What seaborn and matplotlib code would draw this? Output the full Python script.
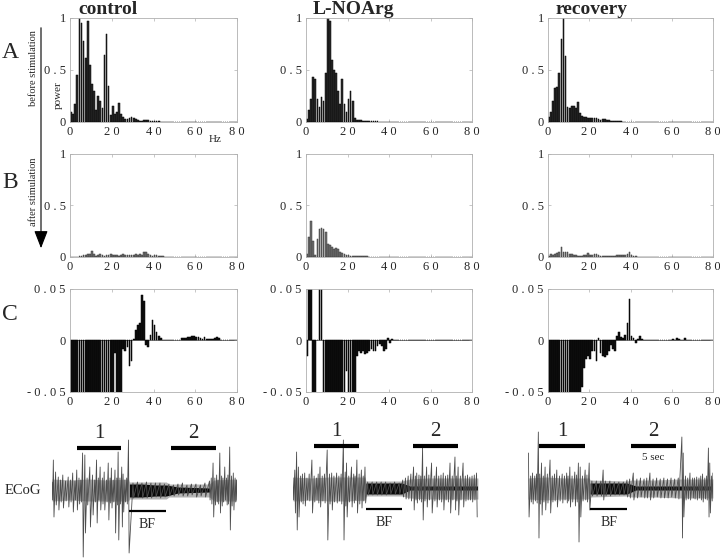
import numpy as np
import pandas as pd
import seaborn as sns
import matplotlib
matplotlib.use("Agg")
import matplotlib.pyplot as plt

# ---------------- data ----------------
conditions = ["control", "L-NOArg", "recovery"]
row_letters = ["A", "B", "C"]
freq_hz = np.arange(0.5, 80.0, 1.0)   # 1-Hz spectral bins

ctrl_A = [0.10, 0.08, 0.17, 0.45, 1.00, 0.95, 0.78, 0.62, 0.97, 0.55,
          0.37, 0.30, 0.12, 0.25, 0.20, 0.13, 0.64, 0.85, 0.35, 0.07,
          0.15, 0.08, 0.10, 0.18, 0.08, 0.05, 0.03, 0.03, 0.04, 0.05,
          0.04, 0.03, 0.02, 0.01, 0.01, 0.015, 0.02, 0.015, 0.01, 0.008,
          0.006, 0.005, 0.005, 0.004, 0.003, 0.002, 0.001, 0.001, 0, 0,
          0, 0, 0, 0, 0, 0, 0, 0, 0, 0,
          0, 0, 0, 0, 0, 0, 0, 0, 0, 0,
          0, 0, 0, 0, 0, 0, 0, 0, 0, 0]
lno_A = [0.03, 0.12, 0.22, 0.43, 0.41, 0.22, 0.14, 0.24, 0.20, 0.47,
         1.00, 0.97, 0.60, 0.50, 0.47, 0.30, 0.17, 0.41, 0.17, 0.10,
         0.22, 0.30, 0.20, 0.04, 0.02, 0.015, 0.015, 0.012, 0.012, 0.01,
         0.01, 0.008, 0.008, 0.006, 0.005, 0.004, 0.003, 0.002, 0.002, 0.001,
         0, 0, 0, 0, 0, 0, 0, 0, 0, 0,
         0, 0, 0, 0, 0, 0, 0, 0, 0, 0,
         0, 0, 0, 0, 0, 0, 0, 0, 0, 0,
         0, 0, 0, 0, 0, 0, 0, 0, 0, 0]
rec_A = [0.05, 0.10, 0.20, 0.33, 0.34, 0.47, 0.80, 1.00, 0.63, 0.14,
         0.13, 0.15, 0.15, 0.13, 0.19, 0.09, 0.06, 0.05, 0.05, 0.04,
         0.04, 0.04, 0.04, 0.035, 0.03, 0.02, 0.025, 0.025, 0.02, 0.015,
         0.012, 0.01, 0.01, 0.008, 0.006, 0.005, 0.004, 0.003, 0.003, 0.002,
         0.002, 0.001, 0.001, 0, 0, 0, 0, 0, 0, 0,
         0, 0, 0, 0, 0, 0, 0, 0, 0, 0,
         0.002, 0.002, 0, 0, 0, 0.002, 0, 0, 0, 0,
         0, 0.002, 0, 0, 0, 0, 0, 0, 0, 0]

ctrl_B = [0, 0, 0, 0, 0.005, 0.01, 0.015, 0.02, 0.025, 0.03,
          0.055, 0.03, 0.01, 0.015, 0.025, 0.015, 0.01, 0.015, 0.02, 0.025,
          0.02, 0.02, 0.015, 0.01, 0.015, 0.03, 0.02, 0.02, 0.015, 0.02,
          0.02, 0.025, 0.02, 0.025, 0.02, 0.045, 0.05, 0.03, 0.015, 0.01,
          0.02, 0.015, 0.01, 0.008, 0.005, 0.003, 0, 0, 0, 0,
          0, 0, 0, 0, 0, 0, 0, 0, 0, 0.002,
          0.002, 0, 0, 0.002, 0, 0, 0, 0, 0, 0,
          0, 0, 0.002, 0, 0, 0, 0.002, 0, 0, 0]
lno_B = [0.03, 0.19, 0.35, 0.16, 0.02, 0.17, 0.27, 0.28, 0.27, 0.24,
         0.13, 0.12, 0.10, 0.08, 0.09, 0.08, 0.05, 0.04, 0.03, 0.02,
         0.015, 0.01, 0.008, 0.006, 0.006, 0.005, 0.008, 0.006, 0.005, 0.005,
         0.004, 0.004, 0.003, 0.003, 0.003, 0.002, 0.002, 0.001, 0.001, 0,
         0, 0, 0, 0, 0, 0, 0, 0, 0, 0,
         0, 0, 0, 0, 0, 0, 0, 0, 0, 0,
         0, 0, 0, 0, 0, 0, 0, 0, 0, 0,
         0, 0, 0, 0, 0, 0, 0, 0, 0, 0]
rec_B = [0.005, 0.03, 0.02, 0.03, 0.04, 0.05, 0.10, 0.05, 0.045, 0.045,
         0.03, 0.025, 0.02, 0.015, 0.01, 0.01, 0.01, 0.015, 0.02, 0.04,
         0.02, 0.02, 0.025, 0.025, 0.015, 0.01, 0.01, 0.01, 0.008, 0.01,
         0.012, 0.01, 0.012, 0.015, 0.015, 0.015, 0.015, 0.02, 0.025, 0.045,
         0.02, 0.01, 0.005, 0.003, 0, 0, 0, 0, 0, 0,
         0, 0, 0, 0, 0, 0, 0, 0, 0, 0,
         0.003, 0.003, 0, 0.003, 0, 0, 0.003, 0.003, 0, 0,
         0, 0, 0, 0, 0, 0, 0, 0, 0, 0]

ctrl_C = [-0.08, -0.08, -0.08, -0.08, -0.08, -0.08, -0.08, -0.08, -0.08, -0.08,
          -0.08, -0.08, -0.08, -0.08, -0.08, -0.08, -0.08, -0.08, -0.08, -0.08,
          -0.08, -0.012, -0.08, -0.08, -0.08, -0.008, -0.01, -0.006, -0.025, -0.02,
          0.001, 0.01, 0.015, 0.017, 0.044, 0.038, -0.004, -0.006, 0.005, 0.02,
          0.015, 0.008, 0.004, 0.002, 0.0005, 0.0005, 0.0005, 0.0005, 0.0005, 0.0005,
          0.0005, 0.0005, 0.0005, 0.002, 0.002, 0.002, 0.003, 0.003, 0.004, 0.004,
          0.003, 0.003, 0.002, 0.001, 0.003, 0.001, 0.001, 0.001, 0.001, 0.002,
          0.003, 0.002, 0.0005, 0.0005, 0.0005, 0.0005, 0.0005, 0.0005, 0.0005, 0.0005]
lno_C = [-0.015, 0.08, 0.08, -0.08, -0.08, 0.0, 0.08, 0.08, -0.08, -0.08,
         -0.08, -0.08, -0.08, -0.08, -0.08, -0.08, -0.08, -0.08, -0.08, -0.03,
         -0.08, -0.08, -0.08, -0.08, -0.015, -0.01, -0.012, -0.01, -0.013, -0.012,
         -0.01, -0.008, -0.01, -0.01, -0.005, -0.003, -0.005, -0.01, -0.008, 0.002,
         -0.002, 0.001, 0.0005, 0.0005, 0.0005, 0.0005, 0.0005, 0.0005, 0.0005, 0.0005,
         0.0005, 0.0005, 0.0005, 0.0005, 0.0005, 0.0005, 0.0005, 0.0005, 0.0005, 0.0005,
         0.0005, 0.0005, 0.0005, 0.0005, 0.0005, 0.0005, 0.0005, 0.0005, 0.0005, 0.0005,
         0.0005, 0.0005, 0.0005, 0.0005, 0.0005, 0.0005, 0.0005, 0.0005, 0.0005, 0.0005]
rec_C = [-0.08, -0.08, -0.08, -0.08, -0.08, -0.08, -0.08, -0.08, -0.08, -0.08,
         -0.08, -0.08, -0.08, -0.08, -0.08, -0.08, -0.045, -0.027, -0.018, -0.015,
         -0.018, -0.01, -0.01, -0.02, 0.002, -0.012, -0.015, -0.016, -0.014, -0.01,
         -0.004, -0.008, -0.01, 0.004, 0.008, 0.003, 0.002, 0.005, 0.017, 0.04,
         0.004, 0.002, -0.002, 0.001, 0.004, 0.001, 0.0005, 0.0005, 0.0005, 0.0005,
         0.0005, 0.0005, 0.0005, 0.0005, 0.0005, 0.0005, 0.0005, 0.0005, 0.0005, 0.0005,
         0.001, 0.0005, 0.002, 0.001, 0.0005, 0.0005, 0.002, 0.0005, 0.0005, 0.0005,
         0.0005, 0.0005, 0.0005, 0.0005, 0.0005, 0.0005, 0.0005, 0.0005, 0.0005, 0.0005]

x_ticks = [0, 20, 40, 60, 80]
x_ticklabels = ["0", "2 0", "4 0", "6 0", "8 0"]
power_ticks = [0, 0.5, 1]
power_ticklabels = ["0", "0 . 5", "1"]
diff_ticks = [-0.05, 0, 0.05]
diff_ticklabels = ["- 0 . 0 5", "0", "0 . 0 5"]

# ECoG traces: deflection times (s) with positive / negative excursions (a.u.)
ctrl_t = [0.0, 0.15, 0.4, 0.7, 0.95, 1.2, 1.5, 1.8, 2.05, 2.3, 2.55, 2.75, 3.0, 3.2,
          3.4, 3.65, 3.9, 4.2, 4.5, 4.75, 4.95, 5.15, 5.35, 5.6, 5.8, 6.05, 6.25, 6.45,
          6.6, 6.8, 7.0, 7.2, 7.35, 7.55, 7.75, 7.9, 8.1, 8.3, 8.5,
          9.0, 9.5, 10.0, 10.5, 11.0, 11.5, 12.0, 12.5, 13.0, 13.5, 14.0, 14.5, 15.0,
          15.5, 16.0, 16.5, 17.0, 17.5, 17.7,
          17.9, 18.1, 18.3, 18.45, 18.65, 18.85, 19.0, 19.2, 19.4, 19.55, 19.75, 19.95,
          20.15, 20.35, 20.5]
ctrl_hi = [8, 30, 18, 13, 10, 15, 9, 13, 10, 17, 9, 20, 12, 10,
           37, 35, 12, 23, 15, 10, 30, 12, 23, 12, 18, 10, 27, 12,
           22, 10, 20, 12, 38, 12, 23, 16, 10, 12, 50,
           7, 8, 7, 8, 7, 7, 7, 6, 6, 5, 6, 7, 5,
           6, 6, 5, 7, 9, 12,
           27, 12, 15, 10, 37, 14, 12, 23, 12, 15, 43, 14,
           17, 12, 10]
ctrl_lo = [-10, -27, -15, -20, -12, -18, -11, -17, -12, -22, -10, -20, -14, -12,
           -67, -43, -15, -37, -25, -12, -33, -10, -20, -14, -20, -12, -30, -13,
           -18, -12, -43, -15, -50, -14, -37, -22, -12, -14, -63,
           -8, -7, -8, -8, -8, -7, -8, -7, -6, -6, -5, -6, -6,
           -5, -7, -6, -7, -10, -14,
           -27, -15, -12, -14, -23, -16, -12, -10, -15, -14, -40, -16,
           -20, -12, -10]
ctrl_env_t = [0, 2, 4, 6, 8.5, 8.6, 12.7, 13, 17.5, 18, 20.5]
ctrl_env_hi = [11, 10, 11, 10, 11, 8, 8, 6, 6, 10, 11]
ctrl_env_lo = [-11, -10, -11, -11, -11, -9, -9, -7, -7, -11, -11]
ctrl_core_t = [8.6, 10, 11.5, 12.7, 14, 17.5]
ctrl_core_hi = [6, 6, 5, 5, 3, 2]
ctrl_core_lo = [-7, -7, -6, -6, -3, -2]

lno_t = [0.0, 0.2, 0.4, 0.6, 0.85, 1.05, 1.3, 1.55, 1.8, 2.1, 2.35, 2.6, 2.8, 3.0,
         3.25, 3.5, 3.8, 4.05, 4.3, 4.55, 4.85, 5.1, 5.35, 5.6, 5.8, 5.95, 6.2, 6.5,
         6.75, 6.9, 7.1, 7.35, 7.6, 7.8, 8.0,
         8.3, 8.8, 9.3, 9.8, 10.3, 10.8, 11.3, 11.8, 12.2, 12.5, 12.8,
         13.1, 13.4, 13.6, 13.75, 14.0, 14.2, 14.4, 14.6, 14.85, 15.1, 15.4, 15.7,
         15.95, 16.2, 16.45, 16.7, 16.95, 17.2, 17.45, 17.7, 18.0, 18.15, 18.35,
         18.6, 18.9, 19.15, 19.4, 19.65, 19.9, 20.15, 20.4]
lno_hi = [10, 18, 36, 21, 12, 14, 15, 10, 14, 28, 12, 10, 14, 21,
          12, 14, 38, 14, 15, 12, 15, 12, 14, 48, 16, 25, 12, 21,
          14, 12, 28, 14, 18, 12, 21,
          6, 6, 6, 6, 6, 5, 6, 5, 8, 10, 12,
          14, 21, 12, 15, 13, 12, 40, 12, 21, 13, 25, 12,
          21, 12, 13, 15, 12, 13, 25, 12, 31, 12, 21,
          12, 25, 12, 13, 11, 12, 13, 15]
lno_lo = [-12, -25, -42, -29, -14, -16, -18, -12, -13, -25, -14, -12, -15, -19,
          -13, -15, -52, -16, -22, -14, -15, -13, -16, -52, -18, -29, -14, -19,
          -15, -12, -25, -16, -20, -13, -15,
          -7, -7, -7, -7, -7, -6, -6, -6, -9, -11, -11,
          -13, -22, -12, -15, -12, -14, -32, -13, -19, -12, -25, -13,
          -19, -12, -14, -22, -12, -14, -25, -12, -22, -13, -27,
          -12, -19, -13, -12, -12, -14, -12, -29]
lno_env_t = [0, 2, 4, 6, 8, 8.1, 12.1, 13, 15, 17, 19, 20.55]
lno_env_hi = [11, 10, 11, 11, 11, 7, 7, 9, 10, 10, 10, 10]
lno_env_lo = [-13, -12, -13, -13, -12, -8, -8, -10, -11, -11, -11, -11]
lno_core_t = [8.1, 10, 12.1, 13, 20.5]
lno_core_hi = [5, 5, 5, 2, 2]
lno_core_lo = [-6, -6, -6, -2, -2]

rec_t = [0.05, 0.3, 0.5, 0.75, 0.95, 1.15, 1.3, 1.5, 1.7, 1.9, 2.15, 2.45, 2.7, 2.95,
         3.2, 3.5, 3.8, 4.05, 4.3, 4.45, 4.65, 4.9, 5.2, 5.4, 5.6, 5.8, 6.05, 6.35,
         6.55, 6.8,
         7.1, 7.6, 8.1, 8.35, 8.6, 9.1, 9.6, 10.1, 10.6, 11.0,
         11.3, 11.7, 12.1, 12.5, 12.9, 13.2, 13.55, 13.9, 14.3, 14.7, 15.1, 15.5,
         15.9, 16.3, 16.7, 17.1, 17.25, 17.5, 17.75, 18.0, 18.3, 18.5, 18.75, 19.0,
         19.2, 19.4, 19.65, 19.85, 20.05, 20.2, 20.4, 20.55]
rec_hi = [35, 12, 15, 12, 14, 56, 14, 25, 12, 21, 14, 28, 12, 14,
          18, 12, 14, 12, 15, 12, 21, 12, 16, 13, 25, 21, 12, 18,
          13, 25,
          7, 7, 7, 18, 7, 7, 6, 6, 6, 8,
          9, 15, 9, 10, 9, 10, 15, 9, 10, 9, 10, 9,
          10, 9, 10, 51, 35, 12, 10, 15, 10, 10, 11, 10,
          12, 14, 10, 12, 40, 25, 12, 15]
rec_lo = [-29, -14, -16, -13, -15, -50, -16, -27, -14, -22, -15, -25, -14, -13,
          -19, -13, -15, -12, -15, -13, -19, -14, -18, -14, -54, -29, -13, -12,
          -14, -22,
          -8, -8, -8, -12, -8, -8, -7, -7, -7, -9,
          -10, -12, -10, -9, -10, -10, -12, -10, -9, -10, -10, -10,
          -9, -10, -11, -50, -29, -12, -11, -12, -10, -11, -12, -10,
          -12, -14, -11, -12, -29, -25, -13, -15]
rec_env_t = [0, 2, 4, 6.8, 6.9, 11, 11.5, 14, 17, 19, 20.55]
rec_env_hi = [10, 11, 10, 10, 8, 7, 8, 8, 9, 9, 9]
rec_env_lo = [-11, -12, -11, -11, -9, -8, -9, -9, -10, -10, -10]
rec_core_t = [6.9, 9, 11, 12, 20.5]
rec_core_hi = [5, 5, 5, 2, 2]
rec_core_lo = [-6, -6, -6, -2, -2]

# epochs (s): analysed windows 1 and 2, basal-forebrain stimulation
ctrl_epochs = {"1": (2.8, 7.7), "2": (13.2, 18.2), "BF": (8.55, 12.65)}
lno_epochs = {"1": (2.35, 7.35), "2": (13.35, 18.35), "BF": (8.1, 12.1)}
rec_epochs = {"1": (1.2, 6.35), "2": (11.45, 16.45), "BF": (6.9, 11.0)}

# ---------------- layout (pixels) ----------------
W, H = 720, 560
sns.set_theme(style="white")
plt.rcParams["font.family"] = ["Liberation Serif", "DejaVu Serif"]
fig = plt.figure(figsize=(W / 100, H / 100), dpi=100)


def px_axes(l, t, r, b):
    return fig.add_axes([l / W, 1 - b / H, (r - l) / W, (b - t) / H])


col_px = [(70, 237), (306, 472), (548, 713)]
row_px = [(18, 122), (154, 257), (289, 392)]
spectra = [[ctrl_A, lno_A, rec_A], [ctrl_B, lno_B, rec_B], [ctrl_C, lno_C, rec_C]]
row_fill = ["#2b2b2b", "#6e6e6e", "#111111"]
row_edge = ["#000000", "#3a3a3a", "#000000"]

for r, (t, b) in enumerate(row_px):
    for c, (l, rr) in enumerate(col_px):
        ax = px_axes(l, t, rr, b)
        df = pd.DataFrame({"hz": freq_hz, "val": spectra[r][c]})
        sns.barplot(data=df, x="hz", y="val", native_scale=True, width=0.82,
                    color=row_fill[r], edgecolor=row_edge[r], linewidth=0.35,
                    saturation=1, errorbar=None, ax=ax)
        ax.set_xlim(0, 80)
        ax.set_xticks(x_ticks)
        ax.set_xticklabels(x_ticklabels)
        if r < 2:
            ax.set_ylim(0, 1)
            ax.set_yticks(power_ticks)
            ax.set_yticklabels(power_ticklabels)
        else:
            ax.set_ylim(-0.05, 0.05)
            ax.set_yticks(diff_ticks)
            ax.set_yticklabels(diff_ticklabels)
            ax.axhline(0, color="#444444", lw=0.5, zorder=0)
        ax.set_xlabel("")
        ax.set_ylabel("")
        for s in ax.spines.values():
            s.set_color("#b0b0b0")
            s.set_linewidth(0.6)
        ax.tick_params(axis="both", direction="in", length=2, width=0.5,
                       color="#b0b0b0", labelsize=9, pad=3,
                       top=True, right=True, bottom=True, left=True)

# titles & row letters
title_x = [108, 353, 592]
for name, x in zip(conditions, title_x):
    fig.text(x / W, 1 - 9 / H, name, ha="center", va="center",
             fontsize=14, fontweight="bold")
for letter, y in zip(row_letters, [52, 183, 315]):
    fig.text(10 / W, 1 - y / H, letter, ha="center", va="center", fontsize=17)

fig.text(33 / W, 1 - 68 / H, "before stimulation", rotation=90, ha="center",
         va="center", fontsize=7.5)
fig.text(33 / W, 1 - 192 / H, "after stimulation", rotation=90, ha="center",
         va="center", fontsize=7.5)
fig.text(58 / W, 1 - 95 / H, "power", rotation=90, ha="center", va="center",
         fontsize=8)
fig.text(215 / W, 1 - 140 / H, "Hz", ha="center", va="center", fontsize=8)
fig.add_artist(matplotlib.patches.FancyArrowPatch(
    (41 / W, 1 - 25 / H), (41 / W, 1 - 251 / H), transform=fig.transFigure,
    arrowstyle="-|>,head_length=0.9,head_width=0.35", mutation_scale=12,
    color="black", lw=0.8))

# ECoG traces
trace_px = [(52, 420, 237, 560), (293, 418, 478, 558), (528, 418, 713, 558)]
traces = [
    (ctrl_t, ctrl_hi, ctrl_lo, ctrl_env_t, ctrl_env_hi, ctrl_env_lo,
     ctrl_core_t, ctrl_core_hi, ctrl_core_lo, ctrl_epochs),
    (lno_t, lno_hi, lno_lo, lno_env_t, lno_env_hi, lno_env_lo,
     lno_core_t, lno_core_hi, lno_core_lo, lno_epochs),
    (rec_t, rec_hi, rec_lo, rec_env_t, rec_env_hi, rec_env_lo,
     rec_core_t, rec_core_hi, rec_core_lo, rec_epochs),
]
for i, (l, t, rr, b) in enumerate(trace_px):
    st, sh, sl, et, eh, el, ct, ch, cl, ep = traces[i]
    ax = px_axes(l, t, rr, b)
    ax.set_xlim(0, 20.56)
    ax.set_ylim(-70, 70)
    ax.axis("off")
    ax.fill_between(et, el, eh, color="#b4b4b4", lw=0)
    # zig-zag trace through each deflection's peak and trough
    zx, zy = [], []
    for tt, h, lo in zip(st, sh, sl):
        zx += [tt, tt + 0.07]
        zy += [h, lo]
    ax.plot(zx, zy, color="#4d4d4d", lw=0.6)
    ax.fill_between(ct, cl, ch, color="#0a0a0a", lw=0)
    for key in ("1", "2"):
        a, z = ep[key]
        ax.plot([a, z], [42, 42], color="black", lw=3, solid_capstyle="butt")
        ax.text((a + z) / 2, 56, key, ha="center", va="center", fontsize=15)
    a, z = ep["BF"]
    ax.plot([a, z], [-21, -21], color="black", lw=1.6, solid_capstyle="butt")
    ax.text((a + z) / 2, -34, "BF", ha="center", va="center", fontsize=10)
    if i == 2:
        a, z = ep["2"]
        ax.text((a + z) / 2, 30, "5 sec", ha="center", va="center", fontsize=8)

fig.text(5 / W, 1 - 490 / H, "ECoG", ha="left", va="center", fontsize=10.5)

fig.savefig("out.png", dpi=100)
